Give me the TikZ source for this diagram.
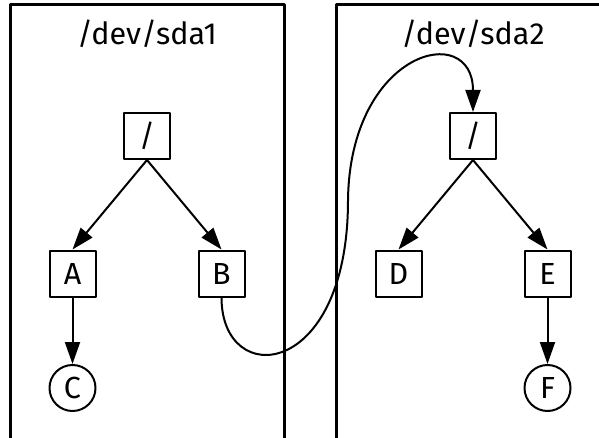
\documentclass[tikz,border=0pt]{standalone}
\usepackage{fontspec}
\setmainfont{Fira Sans}
\usetikzlibrary{arrows.meta}
\begin{document}
\begin{tikzpicture}[x=1pt, y=-1pt, line join=round, font=\fontsize{30.5}{33}\selectfont, >={Triangle[length=22pt,width=15pt]},
	dirbox/.style={draw, line width=2pt, minimum size=46pt, inner sep=0pt},
	filenode/.style={draw, circle, line width=2pt, minimum size=46pt, inner sep=0pt},
	part/.style={draw, line width=3pt},
	link/.style={->, line width=2pt}]
	\clip (0,0) rectangle (599,438);
	% partitions
	\draw[part] (10,460) |- (284,5) -- (284,460);
	\draw[part] (336,460) |- (620,5) -- (620,460);
	\node[anchor=base] (sdaone) at (147,45) {/dev/sda1};
	\node[anchor=base] (sdatwo) at (473,45) {/dev/sda2};
	% first tree
	\node[dirbox] (roota) at (147,136) {/};
	\node[dirbox] (A) at (72.5,273.5) {A};
	\node[dirbox] (B) at (221.5,273.5) {B};
	\node[filenode] (C) at (72.5,388) {C};
	% second tree
	\node[dirbox] (rootb) at (473,136) {/};
	\node[dirbox] (D) at (398.5,273.5) {D};
	\node[dirbox] (E) at (547.5,273.5) {E};
	\node[filenode] (F) at (547.5,388) {F};
	\draw[link] (roota.south) -- (A.north);
	\draw[link] (roota.south) -- (B.north);
	\draw[link] (A.south) -- (C.north);
	\draw[link] (rootb.south) -- (D.north);
	\draw[link] (rootb.south) -- (E.north);
	\draw[link] (E.south) -- (F.north);
	% mount point
	\draw[link] (B.south) .. controls (221.5,390) and (348,380) .. (348,200) .. controls (350,50) and (473,20) .. (rootb.north);
\end{tikzpicture}
\end{document}
